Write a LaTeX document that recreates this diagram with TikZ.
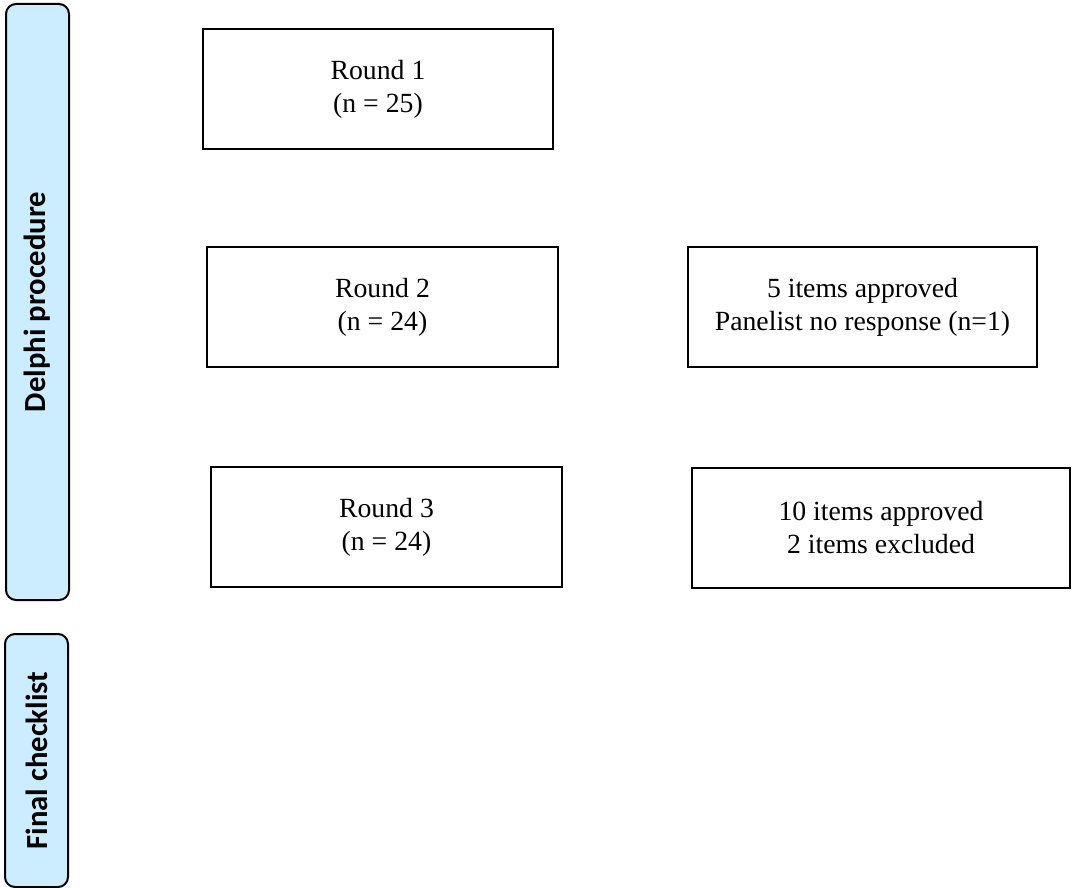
\documentclass[tikz,border=0pt]{standalone}
\usepackage{fontspec}
\setmainfont{Liberation Serif}
\newfontfamily\barfont{Carlito}
\definecolor{barblue}{HTML}{CCECFF}

\begin{document}
\begin{tikzpicture}[x=0.75pt,y=-0.75pt,
  roundbox/.style={draw=black,line width=1.3pt,fill=white,inner sep=0pt,minimum height=90pt,align=center,font=\fontsize{20.8}{24.75}\selectfont},
  sidebar/.style={draw=black,line width=1.5pt,fill=barblue,rounded corners=7.5pt,rotate=90,inner sep=0pt,minimum height=47.25pt,font=\barfont\bfseries\fontsize{23}{27}\selectfont}]
\useasboundingbox (0,0) rectangle (1072,888);

% side bars
\node[sidebar,minimum width=447pt] (delphi) at (37.5,302) {Delphi procedure};
\node[sidebar,minimum width=189.75pt] (final) at (36.5,760.5) {Final checklist};

% rounds
\node[roundbox,minimum width=262.5pt] (round1) at (378,89) {Round 1\\(n = 25)};
\node[roundbox,minimum width=263.25pt] (round2) at (382.5,307) {Round 2\\(n = 24)};
\node[roundbox,minimum width=263.25pt] (round3) at (386.5,527) {Round 3\\(n = 24)};

% results
\node[roundbox,minimum width=261.75pt] (result2) at (862.5,307) {5 items approved\\Panelist no response (n=1)};
\node[roundbox,minimum width=283.5pt] (result3) at (881,528) {10 items approved\\2 items excluded};

\end{tikzpicture}
\end{document}
